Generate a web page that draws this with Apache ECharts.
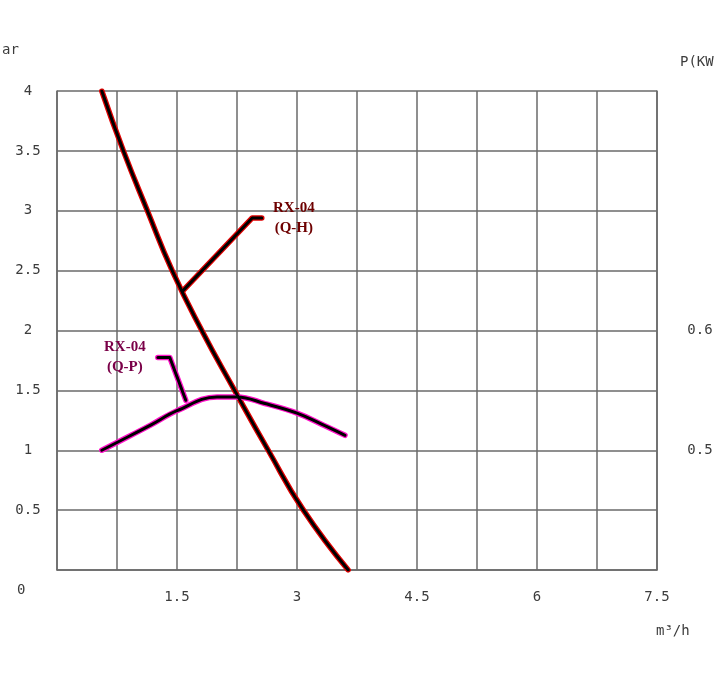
<!DOCTYPE html>
<html>
<head>
<meta charset="utf-8">
<script src="https://cdn.jsdelivr.net/npm/echarts@6/dist/echarts.min.js"></script>
<style>
html,body{margin:0;padding:0;background:#fff;}
#chart{width:727px;height:696px;}
</style>
</head>
<body>
<div id="chart"></div>
<script>
// Flow Q (m3/h) vs head H (bar) for RX-04
const qhFlow = [0.56, 0.83, 1.13, 1.44, 1.81, 2.22, 2.64, 3.08, 3.64];
const qhHead = [4.0, 3.5, 3.0, 2.5, 2.0, 1.5, 1.0, 0.5, 0.0];
// Flow Q (m3/h) vs power P (kW) for RX-04
const qpFlow = [0.56, 0.75, 1.17, 1.5, 2.0, 2.25, 2.6, 3.0, 3.3, 3.6];
const qpPower = [0.500, 0.5065, 0.521, 0.533, 0.5445, 0.5445, 0.539, 0.531, 0.522, 0.5125];
// tick labels
const xTickLabels = [1.5, 3, 4.5, 6, 7.5];
const yTickLabels = [0.5, 1, 1.5, 2, 2.5, 3, 3.5, 4];
const pTickLabels = [0.5, 0.6];
// annotation leader lines (in axis values: flow, head)
const qhLeaderX = [1.575, 2.44, 2.56];
const qhLeaderY = [2.333, 2.94, 2.94];
const qpLeaderX = [1.61, 1.41, 1.26];
const qpLeaderY = [1.417, 1.775, 1.775];
const qhName = 'RX-04\n(Q-H)';
const qpName = 'RX-04\n(Q-P)';

const zip = (a, b) => a.map((v, i) => [v, b[i]]);
const has = (arr, v) => arr.some(t => Math.abs(t - v) < 1e-6);

const gridColor = '#6a6a6a';
const tickFont = { fontFamily: 'DejaVu Sans Mono', fontSize: 14, color: '#3c3c3c' };

const qhData = zip(qhFlow, qhHead);
const qpData = zip(qpFlow, qpPower);
const qhLeader = zip(qhLeaderX, qhLeaderY);
const qpLeader = zip(qpLeaderX, qpLeaderY);

function curve(name, data, yIdx, halo, smooth) {
  return [
    { name: name + ' halo', type: 'line', data: data, yAxisIndex: yIdx, smooth: smooth,
      symbol: 'none', silent: true, z: 3,
      lineStyle: { color: halo, width: 5.5, cap: 'round', join: 'round' } },
    { name: name, type: 'line', data: data, yAxisIndex: yIdx, smooth: smooth,
      symbol: 'none', silent: true, z: 4,
      lineStyle: { color: '#000', width: 3, cap: 'round', join: 'round' } }
  ];
}

function leaderLabel(text, color, pos) {
  return {
    show: true, position: pos, distance: 6,
    formatter: p => (p.dataIndex === 2 ? text : ''),
    fontFamily: 'Liberation Serif', fontWeight: 'bold', fontSize: 15,
    lineHeight: 20, color: color, align: 'center'
  };
}

const chart = echarts.init(document.getElementById('chart'), null, { renderer: 'canvas' });

const qhL = curve('Q-H leader', qhLeader, 0, '#e00000', false);
qhL[1].label = Object.assign(leaderLabel(qhName, '#6e0000', 'right'), { offset: [26, 0] });
qhL[1].symbol = 'circle'; qhL[1].symbolSize = 0.01; qhL[1].showSymbol = true;
const qpL = curve('Q-P leader', qpLeader, 0, '#ff10c8', false);
qpL[1].label = Object.assign(leaderLabel(qpName, '#7a0048', 'left'), { offset: [-27, 0] });
qpL[1].symbol = 'circle'; qpL[1].symbolSize = 0.01; qpL[1].showSymbol = true;

chart.setOption({
  backgroundColor: '#ffffff',
  animation: false,
  grid: { left: 57, top: 91, right: 70, bottom: 126 },
  xAxis: {
    type: 'value', min: 0, max: 7.5, interval: 0.75,
    axisLine: { show: true, lineStyle: { color: gridColor, width: 1.5 } },
    axisTick: { show: false },
    splitLine: { show: true, lineStyle: { color: gridColor, width: 1.5 } },
    axisLabel: Object.assign({
      margin: 20,
      formatter: v => (has(xTickLabels, v) ? String(v) : '')
    }, tickFont)
  },
  yAxis: [
    {
      type: 'value', min: 0, max: 4, interval: 0.5, position: 'left',
      axisLine: { show: true, lineStyle: { color: gridColor, width: 1.5 } },
      axisTick: { show: false },
      splitLine: { show: true, lineStyle: { color: gridColor, width: 1.5 } },
      axisLabel: Object.assign({
        margin: 29, align: 'center',
        formatter: v => (has(yTickLabels, v) ? String(v) : '')
      }, tickFont)
    },
    {
      type: 'value', min: 0.4, max: 0.8, interval: 0.05, position: 'right',
      axisLine: { show: true, lineStyle: { color: gridColor, width: 1.5 } },
      axisTick: { show: false },
      splitLine: { show: false },
      axisLabel: Object.assign({
        margin: 43, align: 'center',
        formatter: v => (has(pTickLabels, v) ? String(v) : '')
      }, tickFont)
    }
  ],
  graphic: [
    { type: 'text', left: 2, top: 43, style: { text: 'ar', font: '14px "DejaVu Sans Mono"', fill: '#3c3c3c' } },
    { type: 'text', left: 680, top: 55, style: { text: 'P(KW', font: '14px "DejaVu Sans Mono"', fill: '#3c3c3c' } },
    { type: 'text', left: 17, top: 583, style: { text: '0', font: '14px "DejaVu Sans Mono"', fill: '#3c3c3c' } },
    { type: 'text', left: 656, top: 624, style: { text: 'm³/h', font: '14px "DejaVu Sans Mono"', fill: '#3c3c3c' } }
  ],
  series: [].concat(
    curve('Q-H', qhData, 0, '#e00000', 0.5),
    curve('Q-P', qpData, 1, '#ff10c8', 0.4),
    qhL,
    qpL
  )
});
</script>
</body>
</html>
